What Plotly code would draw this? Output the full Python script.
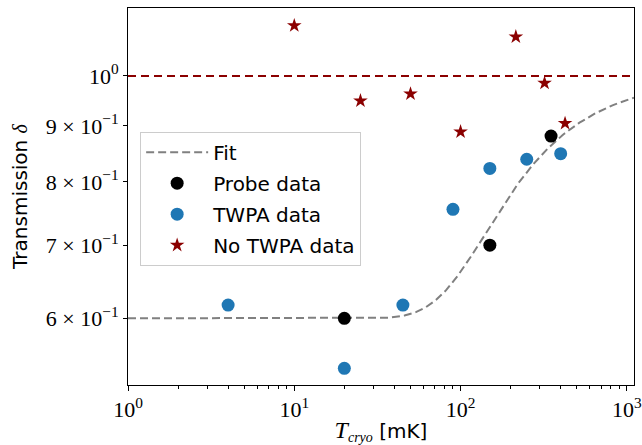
import numpy as np
import plotly.graph_objects as go

# Measured transmission vs cryostat temperature (mK)
probe_T = [20, 150, 350]
probe_delta = [0.600, 0.700, 0.881]

twpa_T = [4, 20, 45, 90, 150, 250, 400]
twpa_delta = [0.617, 0.540, 0.617, 0.755, 0.823, 0.839, 0.849]

no_twpa_T = [10, 25, 50, 100, 215, 320, 425]
no_twpa_delta = [1.112, 0.949, 0.963, 0.889, 1.086, 0.985, 0.905]

# Thermal-population fit: delta = 1 - (1 - delta0) * tanh(hf / 2kT)
FIT_DELTA0 = 0.60
FIT_HF_2K = 124.0  # mK
UNITY = 1.0

X_RANGE = [0.0, 3.043]
Y_RANGE = [np.log10(0.5214), np.log10(1.154)]

fit_T = np.logspace(X_RANGE[0], X_RANGE[1], 400)
fit_delta = 1 - (1 - FIT_DELTA0) * np.tanh(FIT_HF_2K / fit_T)

y_tickvals = [0.6, 0.7, 0.8, 0.9, 1.0]
y_ticktext = ["6 × 10<sup>−1</sup>", "7 × 10<sup>−1</sup>", "8 × 10<sup>−1</sup>",
              "9 × 10<sup>−1</sup>", "10<sup>0</sup>"]
x_tickvals = [1, 10, 100, 1000]
x_ticktext = ["10<sup>0</sup>", "10<sup>1</sup>", "10<sup>2</sup>", "10<sup>3</sup>"]
x_minor = [m * 10 ** d for d in range(0, 4) for m in range(2, 10) if m * 10 ** d < 1104]

SERIF = "Liberation Serif, DejaVu Serif, serif"
SANS = "DejaVu Sans, sans-serif"

fig = go.Figure()

fig.add_trace(go.Scatter(
    x=[10 ** X_RANGE[0], 10 ** X_RANGE[1]], y=[UNITY, UNITY], mode="lines",
    line=dict(color="#8B0000", width=2, dash="8px,5px"), showlegend=False,
    hoverinfo="skip"))

fig.add_trace(go.Scatter(
    x=fit_T, y=fit_delta, mode="lines", name="Fit", legendgroup="fit",
    line=dict(color="#808080", width=2, dash="8px,4px")))

fig.add_trace(go.Scatter(
    x=probe_T, y=probe_delta, mode="markers", name="Probe data", legendgroup="probe",
    marker=dict(color="black", size=13, symbol="circle")))

fig.add_trace(go.Scatter(
    x=twpa_T, y=twpa_delta, mode="markers", name="TWPA data", legendgroup="twpa",
    marker=dict(color="#1f77b4", size=13, symbol="circle")))

fig.add_trace(go.Scatter(
    x=no_twpa_T, y=no_twpa_delta, mode="markers", name="No TWPA data", legendgroup="notwpa",
    marker=dict(color="#8B0000", size=11, symbol="star")))

fig.update_layout(
    width=642, height=445,
    margin=dict(l=128, r=8, t=8, b=60),
    paper_bgcolor="white", plot_bgcolor="white",
    font=dict(family=SANS, size=20, color="black"),
    legend=dict(
        x=0.024, y=0.672, xanchor="left", yanchor="top",
        bgcolor="rgba(255,255,255,0.85)", bordercolor="#cccccc", borderwidth=1,
        font=dict(family=SANS, size=20), tracegroupgap=2, itemwidth=62,
    ),
    xaxis=dict(
        type="log", range=X_RANGE, automargin=False,
        tickmode="array", tickvals=x_tickvals, ticktext=x_ticktext,
        tickfont=dict(family=SERIF, size=22),
        ticks="outside", ticklen=5, tickcolor="black",
        minor=dict(tickmode="array", tickvals=x_minor, ticks="outside",
                   ticklen=3, tickcolor="black", showgrid=False),
        showline=True, mirror=True, linecolor="black", linewidth=1,
        showgrid=False, zeroline=False,
        title=dict(
            text=f"<span style='font-family:{SERIF};font-size:24px'><i>T</i></span>"
                 f"<sub><span style='font-family:{SERIF}'><i>cryo</i></span></sub> [mK]",
            font=dict(family=SANS, size=20), standoff=4),
    ),
    yaxis=dict(
        type="log", range=Y_RANGE, automargin=False,
        tickmode="array", tickvals=y_tickvals, ticktext=y_ticktext,
        tickfont=dict(family=SERIF, size=22),
        ticks="outside", ticklen=4, tickcolor="black",
        showline=True, mirror=True, linecolor="black", linewidth=1,
        showgrid=False, zeroline=False,
        title=dict(
            text=f"Transmission <span style='font-family:{SERIF}'><i>δ</i></span>",
            font=dict(family=SANS, size=20), standoff=12),
    ),
)

fig.write_html("out.html")
